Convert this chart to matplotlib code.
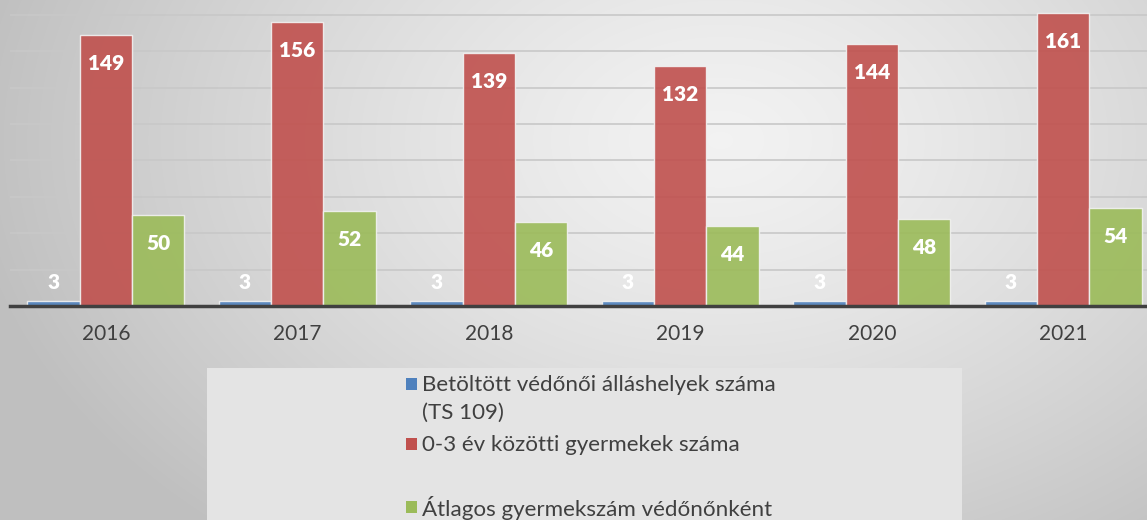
import numpy as np
import matplotlib
matplotlib.use("Agg")
import matplotlib.pyplot as plt
from matplotlib.patches import Rectangle

years = ["2016", "2017", "2018", "2019", "2020", "2021"]
posts = [3, 3, 3, 3, 3, 3]
children = [149, 156, 139, 132, 144, 161]
per_nurse = [50, 52, 46, 44, 48, 54]

series_labels = [
    "Betöltött védőnői álláshelyek száma\n(TS 109)",
    "0-3 év közötti gyermekek száma",
    "Átlagos gyermekszám védőnőnként",
]
colors = ["#4f81bd", "#c0504d", "#9bbb59"]

plt.rcParams["font.family"] = ["Lato", "DejaVu Sans"]

W, H = 1147, 520
fig = plt.figure(figsize=(W / 100, H / 100), dpi=100)

# radial grey background
bg = fig.add_axes([0, 0, 1, 1], zorder=-10)
yy, xx = np.mgrid[0:H, 0:W]
r = np.sqrt(((xx - 720) / 760.0) ** 2 + ((yy - 140) / 520.0) ** 2)
r = np.clip(r, 0, 1)
v = 0.95 - 0.20 * r ** 1.3
bg.imshow(np.dstack([v, v, v]), extent=[0, W, H, 0], aspect="auto")
bg.set_xlim(0, W)
bg.set_ylim(H, 0)
bg.axis("off")

# plot area
left_px, base_px = 10, 306
px_per_unit = 1.82
top_val = base_px / px_per_unit
ax = fig.add_axes([left_px / W, (H - base_px) / H, (W - left_px) / W, base_px / H])
ax.patch.set_alpha(0)

x = np.arange(len(years))
w = 0.273
for i, (vals, c) in enumerate(zip([posts, children, per_nurse], colors)):
    bars = ax.bar(x + (i - 1) * w, vals, w, color=c, alpha=0.9,
                  edgecolor="#f2f2f2", linewidth=1.0, zorder=3)
    for b, val in zip(bars, vals):
        cx = b.get_x() + b.get_width() / 2
        dy = 13 if i == 0 else -20.5
        ax.annotate(str(val), (cx, val), xytext=(0, dy), textcoords="offset points",
                    ha="center", va="center", color="white", fontsize=15,
                    fontweight="heavy", zorder=4)

ax.set_xlim(-0.5, -0.5 + (W - left_px) / 191.5)
ax.set_ylim(0, top_val)
ax.set_yticks(np.arange(20, 161, 20))
ax.yaxis.grid(True, color="#c8c8c8", linewidth=1.2, zorder=0)
ax.tick_params(axis="y", left=False, labelleft=False)
ax.set_xticks(x)
ax.set_xticklabels(years, fontsize=15, color="#404040")
ax.tick_params(axis="x", length=0, pad=13)
for s in ["top", "right", "left"]:
    ax.spines[s].set_visible(False)
ax.spines["bottom"].set_color("#404040")
ax.spines["bottom"].set_linewidth(2.5)
ax.spines["bottom"].set_zorder(5)

# legend panel
fig.patches.append(Rectangle((207 / W, 0), (962 - 207) / W, (H - 368) / H,
                             transform=fig.transFigure, facecolor="#e4e4e4",
                             edgecolor="none", zorder=-5))
entries = [(385, 0), (445, 1), (508, 2)]
for ypx, k in entries:
    fig.patches.append(Rectangle((406 / W, (H - ypx - 5) / H), 11 / W, 12 / H,
                                 transform=fig.transFigure, facecolor=colors[k],
                                 edgecolor="none"))
legend_lines = [
    (385, "Betöltött védőnői álláshelyek száma"),
    (413, "(TS 109)"),
    (445, series_labels[1]),
    (508, series_labels[2]),
]
for ypx, txt in legend_lines:
    fig.text(422 / W, (H - ypx) / H, txt, fontsize=16.1, color="#404040",
             va="center", ha="left")

fig.savefig("out.png", dpi=100)
